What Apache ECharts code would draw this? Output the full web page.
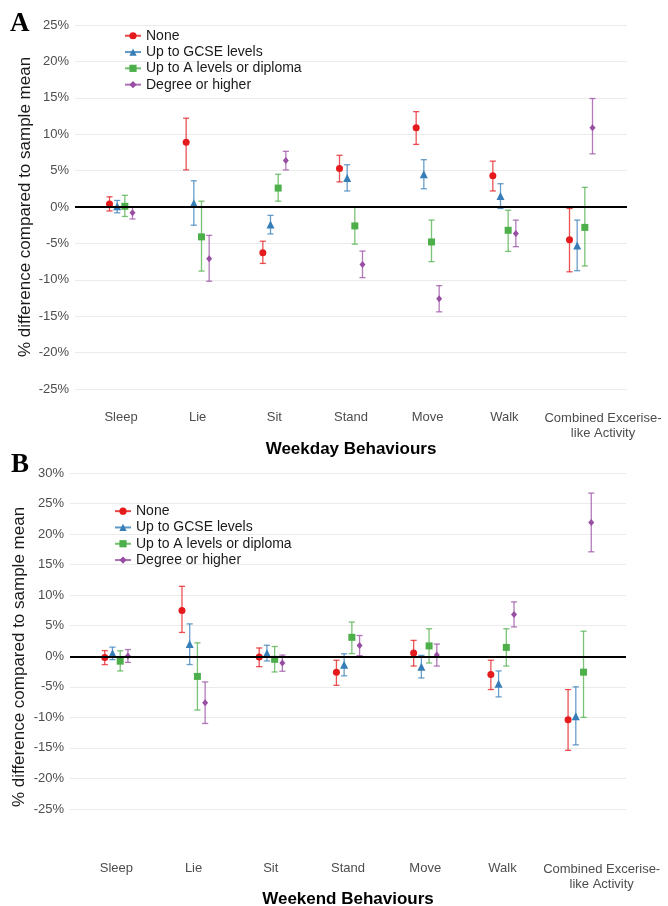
<!DOCTYPE html>
<html>
<head>
<meta charset="utf-8">
<script src="https://cdn.jsdelivr.net/npm/echarts@6/dist/echarts.min.js"></script>
<style>
html,body{margin:0;padding:0;background:#fff;}
#chart{width:668px;height:906px;}
</style>
</head>
<body>
<div id="chart"></div>
<script>
// ---------- data ----------
const categories = ['Sleep', 'Lie', 'Sit', 'Stand', 'Move', 'Walk', 'Combined Excerise-\nlike Activity'];
const groups = ['None', 'Up to GCSE levels', 'Up to A levels or diploma', 'Degree or higher'];
const yTicksA = [-25, -20, -15, -10, -5, 0, 5, 10, 15, 20, 25];
const yTicksB = [-25, -20, -15, -10, -5, 0, 5, 10, 15, 20, 25, 30];

// Weekday (panel A): mean, lower, upper (%)
const wdNone    = [0.4, 8.9, -6.3, 5.3, 10.9, 4.3, -4.5];
const wdNoneLo  = [-0.55, 5.1, -7.75, 3.45, 8.6, 2.2, -8.9];
const wdNoneHi  = [1.4, 12.2, -4.7, 7.1, 13.1, 6.3, -0.2];
const wdGcse    = [0.1, 0.5, -2.4, 4.0, 4.5, 1.5, -5.3];
const wdGcseLo  = [-0.8, -2.5, -3.7, 2.2, 2.5, -0.2, -8.75];
const wdGcseHi  = [0.9, 3.6, -1.15, 5.8, 6.5, 3.2, -1.8];
const wdAlev    = [0.1, -4.1, 2.6, -2.6, -4.8, -3.2, -2.8];
const wdAlevLo  = [-1.3, -8.8, 0.8, -5.1, -7.5, -6.1, -8.1];
const wdAlevHi  = [1.6, 0.8, 4.5, 0.0, -1.8, -0.45, 2.7];
const wdDeg     = [-0.8, -7.1, 6.4, -7.9, -12.6, -3.65, 10.9];
const wdDegLo   = [-1.65, -10.2, 5.1, -9.7, -14.4, -5.45, 7.3];
const wdDegHi   = [0.05, -3.9, 7.65, -6.05, -10.8, -1.8, 14.9];

// Weekend (panel B): mean, lower, upper (%)
const weNone    = [-0.2, 7.5, -0.1, -2.6, 0.55, -3.0, -10.4];
const weNoneLo  = [-1.36, 3.9, -1.7, -4.75, -1.6, -5.45, -15.4];
const weNoneHi  = [0.93, 11.45, 1.36, -0.65, 2.6, -0.65, -5.45];
const weGcse    = [0.5, 2.0, 0.5, -1.4, -1.7, -4.5, -9.8];
const weGcseLo  = [-0.55, -1.35, -0.77, -3.2, -3.55, -6.65, -14.5];
const weGcseHi  = [1.5, 5.3, 1.8, 0.4, 0.15, -2.4, -5.0];
const weAlev    = [-0.8, -3.3, -0.5, 3.1, 1.7, 1.45, -2.6];
const weAlevLo  = [-2.4, -8.8, -2.57, 0.44, -1.1, -1.6, -10.0];
const weAlevHi  = [0.9, 2.2, 1.6, 5.6, 4.5, 4.5, 4.1];
const weDeg     = [0.05, -7.6, -1.1, 1.75, 0.2, 6.85, 21.9];
const weDegLo   = [-1.0, -11.0, -2.45, 0.1, -1.6, 4.8, 17.1];
const weDegHi   = [1.1, -4.2, 0.2, 3.4, 2.0, 8.9, 26.7];

// ---------- styling ----------
const colors = ['#E41A1C', '#377EB8', '#4DAF4A', '#984EA3'];
const symbols = ['circle', 'triangle', 'rect', 'diamond'];
const symbolSizes = [7, 8, 7, [6, 7]];
const dodge = [-0.15, -0.05, 0.05, 0.15];
const FONT = 'Liberation Sans, Arial, sans-serif';

const panels = [
  { mean: [wdNone, wdGcse, wdAlev, wdDeg], lo: [wdNoneLo, wdGcseLo, wdAlevLo, wdDegLo], hi: [wdNoneHi, wdGcseHi, wdAlevHi, wdDegHi] },
  { mean: [weNone, weGcse, weAlev, weDeg], lo: [weNoneLo, weGcseLo, weAlevLo, weDegLo], hi: [weNoneHi, weGcseHi, weAlevHi, weDegHi] }
];

const series = [];
// dummy series for legend (line + symbol icons)
groups.forEach((g, gi) => {
  series.push({
    name: g, type: 'line', data: [], xAxisIndex: 0, yAxisIndex: 0,
    symbol: symbols[gi], symbolSize: symbolSizes[gi],
    itemStyle: { color: colors[gi] },
    lineStyle: { color: colors[gi], width: 1.3, opacity: 0.8 }
  });
});

panels.forEach((p, pi) => {
  const xi = pi * 2;
  groups.forEach((g, gi) => {
    const errData = p.mean[gi].map((m, ci) => [ci + dodge[gi], p.lo[gi][ci], p.hi[gi][ci]]);
    series.push({
      type: 'custom', name: g + ' CI ' + pi, xAxisIndex: xi, yAxisIndex: pi,
      silent: true, z: 2,
      data: errData,
      renderItem: function (params, api) {
        const x = api.value(0);
        const a = api.coord([x, api.value(1)]);
        const b = api.coord([x, api.value(2)]);
        const hw = api.size([0.04, 0])[0];
        const st = { stroke: colors[gi], lineWidth: 1.3, opacity: 0.75 };
        return {
          type: 'group',
          children: [
            { type: 'line', shape: { x1: a[0], y1: a[1], x2: b[0], y2: b[1] }, style: st },
            { type: 'line', shape: { x1: a[0] - hw, y1: a[1], x2: a[0] + hw, y2: a[1] }, style: st },
            { type: 'line', shape: { x1: b[0] - hw, y1: b[1], x2: b[0] + hw, y2: b[1] }, style: st }
          ]
        };
      }
    });
    const s = {
      type: 'scatter', name: g + ' pt ' + pi, xAxisIndex: xi, yAxisIndex: pi,
      symbol: symbols[gi], symbolSize: symbolSizes[gi], z: 3,
      itemStyle: { color: colors[gi], opacity: 1 },
      data: p.mean[gi].map((m, ci) => [ci + dodge[gi], m]),
      silent: true
    };
    if (gi === 0) {
      s.markLine = {
        silent: true, symbol: 'none', label: { show: false },
        lineStyle: { color: '#000', width: 2.2, type: 'solid' },
        data: [{ yAxis: 0 }]
      };
    }
    series.push(s);
  });
});

// main x axis: labels for the first six categories + axis title
function xAxisCfg(gi, name, margin, nameGap) {
  return {
    type: 'value', gridIndex: gi, position: 'bottom', min: -0.6, max: 6.6,
    axisLine: { show: false }, axisTick: { show: false }, splitLine: { show: false },
    axisLabel: {
      customValues: [0, 1, 2, 3, 4, 5],
      showMinLabel: true, showMaxLabel: true, hideOverlap: false,
      margin: margin, fontSize: 13, color: '#4d4d4d', fontFamily: FONT,
      formatter: function (v) { return categories[Math.round(v)]; }
    },
    name: name, nameLocation: 'middle', nameGap: nameGap, nameMoveOverlap: false,
    nameTextStyle: { fontSize: 17, fontWeight: 'bold', color: '#000', verticalAlign: 'middle', fontFamily: FONT }
  };
}
// companion x axis: only the long last category label (shifted right like the original)
function xAxisCfg2(gi, margin) {
  return {
    type: 'value', gridIndex: gi, position: 'bottom', offset: 0, min: -0.6, max: 6.6,
    axisLine: { show: false }, axisTick: { show: false }, splitLine: { show: false },
    axisLabel: {
      customValues: [6],
      showMinLabel: true, showMaxLabel: true, hideOverlap: false,
      margin: margin, fontSize: 13, color: '#4d4d4d', fontFamily: FONT, lineHeight: 15,
      formatter: function (v) {
        return categories[Math.round(v)].split('\n').map(t => '{c|' + t + '}').join('\n');
      },
      rich: { c: { padding: [0, 0, 0, 44], fontSize: 13, color: '#4d4d4d', lineHeight: 15, fontFamily: FONT } }
    }
  };
}

function yAxisCfg(gi, min, max, nameGap, pad) {
  return {
    type: 'value', gridIndex: gi, min: min, max: max, interval: 5,
    axisLine: { show: false }, axisTick: { show: false },
    splitLine: { show: true, lineStyle: { color: '#ebebeb', width: 1.2 } },
    axisLabel: { formatter: '{value}%', fontSize: 13, color: '#4d4d4d', margin: 6, fontFamily: FONT },
    name: '% difference compared to sample mean', nameLocation: 'middle', nameGap: nameGap, nameMoveOverlap: false,
    nameTextStyle: { fontSize: 17, color: '#1a1a1a', verticalAlign: 'middle', fontFamily: FONT, padding: pad }
  };
}

function legendCfg(left, top) {
  return {
    data: groups, orient: 'vertical', left: left, top: top, padding: 0,
    itemWidth: 16, itemHeight: 9, itemGap: 0,
    selectedMode: false,
    textStyle: { fontSize: 14, color: '#1a1a1a', lineHeight: 16.3, fontFamily: FONT }
  };
}

const option = {
  animation: false,
  backgroundColor: '#fff',
  grid: [
    { left: 75, right: 41, top: 25, height: 364, outerBoundsMode: 'none', containLabel: false },
    { left: 70, right: 42, top: 473, height: 336, outerBoundsMode: 'none', containLabel: false }
  ],
  xAxis: [
    xAxisCfg(0, 'Weekday Behaviours', 22, 60),
    xAxisCfg2(0, 22),
    xAxisCfg(1, 'Weekend Behaviours', 53, 90),
    xAxisCfg2(1, 53)
  ],
  yAxis: [
    yAxisCfg(0, yTicksA[0], yTicksA[yTicksA.length - 1], 50, [0, 0, 0, 0]),
    yAxisCfg(1, yTicksB[0], yTicksB[yTicksB.length - 1], 50.5, [0, 32, 0, 0])
  ],
  legend: [legendCfg(124, 27.6), legendCfg(114, 503)],
  graphic: [
    { type: 'text', left: 10, top: 11, style: { text: 'A', font: 'bold 27px "Liberation Serif", "Times New Roman", serif', fill: '#000' } },
    { type: 'text', left: 11, top: 452, style: { text: 'B', font: 'bold 27px "Liberation Serif", "Times New Roman", serif', fill: '#000' } }
  ],
  series: series
};

const chart = echarts.init(document.getElementById('chart'), null, { renderer: 'canvas' });
chart.setOption(option);
</script>
</body>
</html>
